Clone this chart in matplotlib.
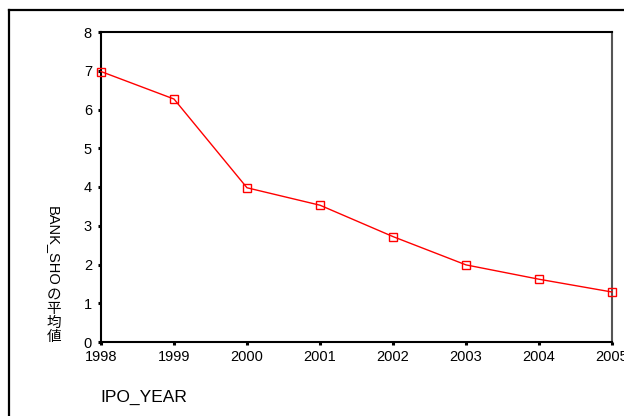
import matplotlib
matplotlib.use("Agg")
import matplotlib.pyplot as plt
from matplotlib.lines import Line2D

years = [1998, 1999, 2000, 2001, 2002, 2003, 2004, 2005]
bank_sho_mean = [6.98, 6.27, 3.98, 3.53, 2.72, 1.99, 1.62, 1.29]
y_ticks = [0, 1, 2, 3, 4, 5, 6, 7, 8]

plt.rcParams['font.family'] = ['Liberation Sans', 'Noto Sans CJK JP', 'DejaVu Sans']

W, H = 624, 416
fig = plt.figure(figsize=(W / 100, H / 100), dpi=100)
fig.patch.set_facecolor('white')

# outer frame (left and top edges)
fig.add_artist(Line2D([9 / W, 9 / W], [0, 1 - 10 / H], color='black', lw=1.6,
                      transform=fig.transFigure))
fig.add_artist(Line2D([9 / W, 1], [1 - 10 / H, 1 - 10 / H], color='black', lw=1.6,
                      transform=fig.transFigure))

ax = fig.add_axes([101 / W, 1 - 342 / H, (612 - 101) / W, (342 - 32) / H])
ax.plot(years, bank_sho_mean, color='#ff0000', lw=1.0, marker='s', markersize=6,
        markerfacecolor='none', markeredgecolor='#ff0000', markeredgewidth=1.0,
        clip_on=False, zorder=5)

ax.set_xlim(years[0], years[-1])
ax.set_ylim(0, 8)
ax.set_xticks(years)
ax.set_xticklabels([str(y) for y in years])
ax.set_yticks(y_ticks)
ax.set_yticklabels([str(v) for v in y_ticks])
ax.tick_params(direction='out', length=2.5, width=2.2, color='black',
               labelsize=10.5, pad=3)
ax.tick_params(axis='y', pad=4)

for side in ['left', 'bottom', 'top']:
    ax.spines[side].set_color('black')
    ax.spines[side].set_linewidth(1.5)
ax.spines['right'].set_color('#555555')
ax.spines['right'].set_linewidth(1.5)

fig.text(100 / W, 1 - 397 / H, 'IPO_YEAR', fontsize=12.5, ha='left', va='center')

# vertical y label: Latin part rotated, CJK characters upright
fig.text(53 / W, 1 - 206 / H, 'BANK_SHO', fontsize=10.5, rotation=270,
         ha='center', va='top')
cjk = ['の', '平', '均', '値']
cjk_y = [295, 309, 323, 337]
for ch, yy in zip(cjk, cjk_y):
    fig.text(54 / W, 1 - yy / H, ch, fontsize=10.5, ha='center', va='center',
             family=['Noto Sans CJK JP', 'DejaVu Sans'])

fig.savefig('out.png', dpi=100, facecolor='white')
